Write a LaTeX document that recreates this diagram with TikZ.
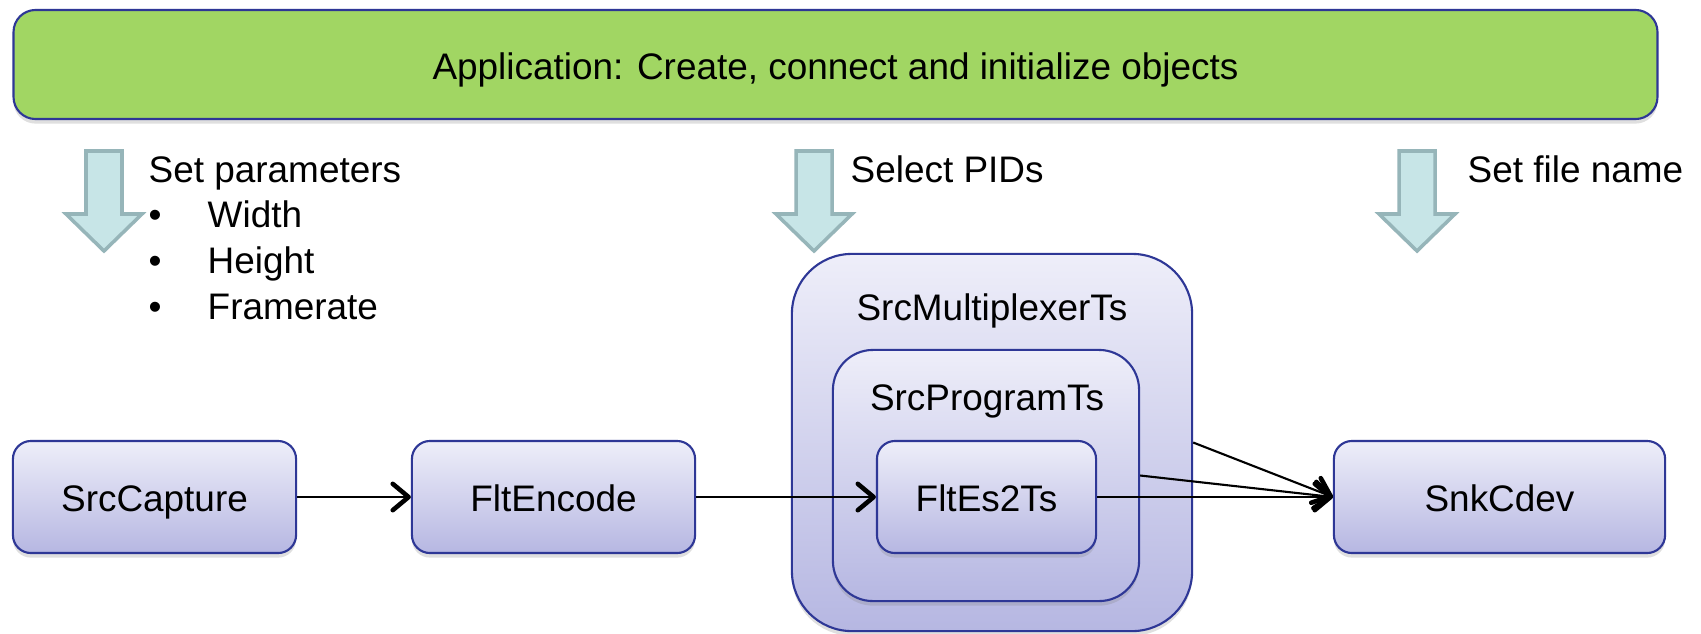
\documentclass[tikz,border=0pt]{standalone}
\usepackage{fontspec}
\setmainfont{Liberation Sans}
\usepackage{xcolor}
\usepackage{tikz}
\usetikzlibrary{positioning,arrows.meta,shadows}

\definecolor{appgreen}{RGB}{161,214,99}
\definecolor{frameblue}{RGB}{46,55,150}
\definecolor{boxtop}{RGB}{238,238,249}
\definecolor{boxbot}{RGB}{182,183,226}
\definecolor{hintfill}{RGB}{199,229,231}
\definecolor{hintdraw}{RGB}{150,181,185}

\begin{document}
\begin{tikzpicture}[
        x=0.01cm, y=-0.01cm,
        font=\fontsize{10.5}{13}\selectfont,
        >={Straight Barb[length=4.5pt,width=7.5pt,line width=1.3pt,round]},
        shadowed/.style={drop shadow={shadow xshift=0pt,shadow yshift=-1.3pt,opacity=0.25}},
        appbox/.style={draw=frameblue, line width=0.6pt, fill=appgreen, rounded corners=0.22cm,
            text height=1.05em, text depth=0.21em, shadowed},
        group/.style={draw=frameblue, line width=0.6pt, top color=boxtop, bottom color=boxbot, shadowed},
        block/.style={group, rounded corners=0.18cm, minimum height=1.12cm, align=center,
            text height=1.05em, text depth=0.21em},
        flow/.style={->, line width=0.6pt},
        hint/.style={fill=hintfill, draw=hintdraw, line width=1pt}
    ]
    \path[fill=white, use as bounding box] (0,0) rectangle (1701,633);

    % Application
    \node[appbox, minimum width=16.43cm, minimum height=1.09cm] (app) at (835.5,64.5)
        {Application: Create, connect and initialize objects};

    % Fleches larges
    \foreach \c in {104,814,1417}
        \draw[hint] (\c-18,151) -- (\c+18,151) -- (\c+18,214) -- (\c+38,214)
            -- (\c,251) -- (\c-38,214) -- (\c-18,214) -- cycle;

    \node[anchor=base west, inner sep=0] (params) at (148,182)
        {\begin{tabular}[t]{@{}p{0.59cm}@{}l@{}}
            \multicolumn{2}{@{}l@{}}{Set parameters}\\
            \textbullet & Width\\
            \textbullet & Height\\
            \textbullet & Framerate
        \end{tabular}};
    \node[anchor=base west, inner sep=0] (pids) at (850,182) {Select PIDs};
    \node[anchor=base west, inner sep=0] (fname) at (1467,182) {Set file name};

    % Noeuds
    \node[group, rounded corners=0.6cm, minimum width=4cm, minimum height=3.77cm] (mux) at (992,442.5) {};
    \node[group, rounded corners=0.4cm, minimum width=3.06cm, minimum height=2.51cm] (prog) at (986,475.5) {};
    \node[anchor=base] (muxlabel) at (992,320) {SrcMultiplexerTs};
    \node[anchor=base] (proglabel) at (987,410) {SrcProgramTs};

    \node[block, minimum width=2.83cm] (capture) at (154.5,497) {SrcCapture};
    \node[block, minimum width=2.83cm] (encode) at (553.5,497) {FltEncode};
    \node[block, minimum width=2.19cm] (es2ts) at (986.5,497) {FltEs2Ts};
    \node[block, minimum width=3.31cm] (cdev) at (1499.5,497) {SnkCdev};

    % Connexions
    \draw[flow] (capture) -- (encode);
    \draw[flow] (encode) -- (es2ts);
    \draw[flow] (es2ts) -- (cdev);
    \draw[flow] (prog.east) -- (cdev.west);
    \draw[flow] (mux.east) -- (cdev.west);
\end{tikzpicture}
\end{document}
